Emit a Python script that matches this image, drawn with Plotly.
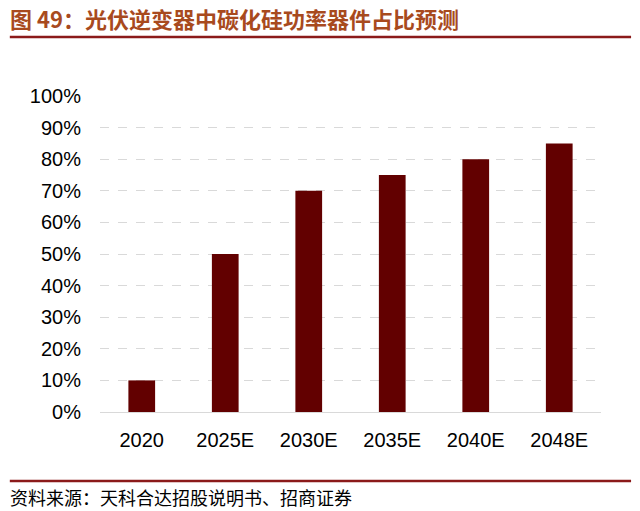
import plotly.graph_objects as go

# data
years = ["2020", "2025E", "2030E", "2035E", "2040E", "2048E"]
sic_share = [0.10, 0.50, 0.70, 0.75, 0.80, 0.85]

title_text = "图 49：光伏逆变器中碳化硅功率器件占比预测"
source_text = "资料来源：天科合达招股说明书、招商证券"

bar = go.Bar(
    x=years,
    y=sic_share,
    marker=dict(color="#620000", line=dict(width=0)),
    width=0.32,
)

fig = go.Figure(bar)

# page has an 8px body margin, so the figure is 632x503
fig.update_layout(
    width=632,
    height=503,
    margin=dict(l=92, r=39, t=88, b=99),
    paper_bgcolor="white",
    plot_bgcolor="white",
    showlegend=False,
    font=dict(family="Liberation Sans, Arial", size=20, color="black"),
)

fig.update_yaxes(
    range=[0, 1.0],
    tickvals=[i / 10 for i in range(11)],
    tickformat=".0%",
    showgrid=True,
    gridcolor="#d9d9d9",
    griddash="dash",
    gridwidth=1.3,
    zeroline=False,
    showline=False,
    ticks="",
    ticklabelstandoff=18,
)
fig.update_xaxes(
    showline=True,
    linecolor="#d9d9d9",
    linewidth=1.3,
    ticks="",
    ticklabelstandoff=10,
)

# title and source, with the red rules
fig.add_annotation(
    text="<b>" + title_text + "</b>",
    xref="paper", yref="paper", x=-0.184, y=1.247, yanchor="middle", xanchor="left",
    showarrow=False,
    font=dict(family="Noto Sans CJK SC", size=22, color="#A84A1E"),
)
fig.add_shape(type="line", xref="paper", yref="paper", x0=-0.18, x1=1.06,
              y0=1.187, y1=1.187, line=dict(color="#8B1A1A", width=2.5))
fig.add_shape(type="line", xref="paper", yref="paper", x0=-0.18, x1=1.06,
              y0=-0.218, y1=-0.218, line=dict(color="#8B1A1A", width=2.5))
fig.add_annotation(
    text=source_text,
    xref="paper", yref="paper", x=-0.184, y=-0.269, yanchor="middle", xanchor="left",
    showarrow=False,
    font=dict(family="Noto Sans CJK SC", size=18, color="black"),
)

fig.write_html("out.html")
